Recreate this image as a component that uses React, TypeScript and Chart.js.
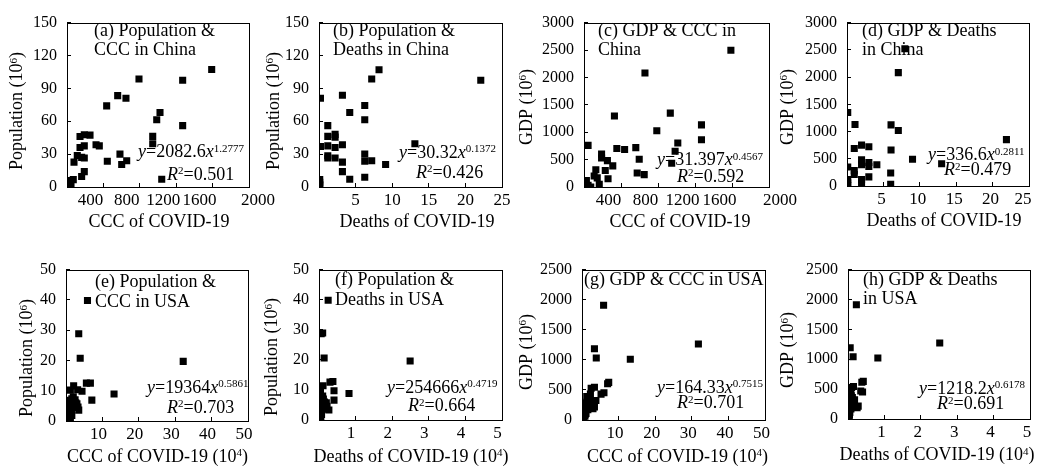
import React, { useEffect, useRef } from "react";
import { Chart, registerables } from "chart.js";

Chart.register(...registerables);

const FONT = '"Liberation Serif", "Times New Roman", Times, serif';

// ---------------- data ----------------
// (a) Population & CCC in China
const chinaCccA = [1590, 1271, 1271, 1022, 986, 942, 942, 1041, 791, 557, 648, 436, 582, 601, 656, 443, 253, 190, 143, 319, 355, 190, 143, 113, 161, 190, 77, 190, 161, 0, 33, 69, 44, 15];
const chinaPopA = [107.2, 97.4, 56, 68, 61.3, 46.2, 39.5, 7, 98.5, 83.4, 81, 74, 30, 20.6, 24, 23.5, 47.3, 47.7, 46, 38.6, 37.5, 37.5, 36, 28.8, 27, 26.4, 22.7, 14, 9.6, 5.2, 6, 6.7, 2.3, 4];
// (b) Population & Deaths in China
const chinaDeathsB = [0.2, 0.2, 0.1, 0.1, 0.1, 0.1, 1.2, 1.2, 1.2, 1.2, 1.2, 2.2, 2.2, 2.2, 2.2, 3.2, 3.2, 3.2, 3.2, 4.2, 4.2, 6.25, 6.25, 6.25, 6.25, 6.25, 7.2, 7.2, 8.2, 9.1, 13.1, 22.1];
const chinaPopB = [81, 37, 6.7, 4.4, 2.3, 1, 56, 46.2, 37.5, 28.5, 26.4, 48, 45.5, 36, 26.4, 83.7, 38.6, 22.7, 14, 68, 7, 74.3, 61.3, 30, 23.5, 8.9, 98.5, 24, 107, 20.6, 39.5, 97.4];
// (c) GDP & CCC in China
const chinaCccC = [1588, 659, 329, 933, 1270, 1270, 787, 1014, 985, 948, 560, 597, 575, 651, 439, 355, 311, 253, 44, 190, 190, 128, 143, 165, 26, 44, 73, 110, 230, 260];
const chinaGdpC = [2495, 2079, 1295, 1348, 1134, 861, 1028, 802, 653, 434, 719, 505, 255, 226, 683, 701, 386, 481, 760, 600, 530, 315, 166, 48, 119, 30, 0, 200, 300, 150];
// (d) GDP & Deaths in China
const chinaDeathsD = [7.95, 7.05, 0.1, 1.1, 6.05, 7.05, 1.0, 2.0, 3.0, 6.05, 2, 2, 3, 3, 4.1, 1, 1, 2, 2, 3, 6, 6, 0.1, 0.1, 0.1, 0.1, 9, 13, 21.9];
const chinaGdpD = [2520, 2082, 1350, 1128, 1122, 1020, 690, 750, 720, 660, 480, 390, 432, 360, 390, 282, 210, 120, 60, 168, 240, 30, 348, 120, 60, 10, 492, 408, 852];
// (e) Population & CCC in USA (CCC in 10^4)
const usCccE = [5.9, 3.5, 3.9, 32.2, 5.6, 6.7, 2.1, 1.2, 3.2, 4.4, 13.2, 7.1, 2.0, 1.6, 2.5, 1.0, 1.8, 2.7, 3.0, 0.6, 1.4, 2.2, 3.3, 3.5, 0.8, 1.1, 0.5, 0.9, 1.3, 0.4, 0.3, 0.6, 0.2, 0.15, 0.5, 0.3, 0.1, 0.4, 1.0, 0.2, 0.6, 1.2, 0.25, 0.7, 1.6, 0.8, 1.9, 1.5, 2.5, 0.3, 1.2];
const usPopE = [39.8, 28.8, 20.7, 19.7, 12.5, 12.5, 11.6, 10.2, 10.3, 9.8, 8.9, 6.9, 8.0, 7.3, 7.0, 6.8, 6.3, 6.0, 5.7, 5.8, 5.0, 4.9, 4.6, 3.6, 4.6, 4.2, 3.1, 3.0, 3.2, 2.9, 1.8, 2.1, 1.3, 1.0, 1.4, 0.9, 0.7, 0.6, 1.1, 0.6, 0.7, 0.9, 1.8, 1.9, 1.8, 3.9, 4.5, 3.6, 5.3, 4.1, 6.2];
// (f) Population & Deaths in USA (Deaths in 10^4)
const usDeathsF = [0.25, 0.06, 0.1, 0.14, 2.49, 0.3, 0.38, 0.11, 0.04, 0.41, 0.82, 0.41, 0.1, 0.05, 0.12, 0.03, 0.08, 0.15, 0.2, 0.02, 0.06, 0.1, 0.22, 0.27, 0.03, 0.05, 0.02, 0.04, 0.06, 0.01, 0.01, 0.02, 0.01, 0.005, 0.02, 0.01, 0.005, 0.01, 0.04, 0.01, 0.02, 0.05, 0.01, 0.03, 0.07, 0.04, 0.09, 0.12, 0.16, 0.01, 0.05];
const usPopF = [39.8, 28.7, 28.9, 20.6, 19.6, 12.6, 12.8, 11.4, 9.8, 9.7, 8.8, 6.6, 8.0, 7.3, 7.0, 6.8, 6.3, 6.0, 5.7, 5.8, 5.0, 4.9, 4.6, 3.3, 4.6, 4.2, 3.1, 3.0, 3.2, 2.9, 1.8, 2.1, 1.3, 1.0, 1.4, 0.9, 0.7, 0.6, 1.1, 0.6, 0.7, 0.9, 1.8, 1.9, 1.8, 3.9, 4.5, 3.6, 5.3, 4.1, 6.2];
// (g) GDP & CCC in USA
const usCccG = [5.9, 3.4, 3.9, 31.8, 13.2, 7.0, 7.3, 5.2, 6.0, 2.5, 3.4, 2.3, 1.8, 2.7, 3.8, 3.0, 3.4, 1.0, 1.2, 0.8, 0.5, 0.3, 0.2, 1.5, 0.6, 0.4, 0.9, 0.3, 0.2, 0.1, 0.7, 1.3, 2.0, 0.5, 0.25, 0.15, 0.1, 0.6, 1.1, 1.6, 2.2, 0.4, 0.3, 0.8, 0.2, 0.35, 0.12, 0.5, 0.9, 1.4, 0.06];
const usGdpG = [1908, 1183, 1032, 1263, 1011, 602, 625, 430, 452, 527, 545, 430, 323, 323, 323, 188, 215, 210, 200, 160, 100, 60, 30, 250, 130, 80, 280, 45, 20, 10, 140, 390, 360, 70, 50, 25, 15, 190, 110, 170, 240, 35, 90, 65, 120, 40, 55, 150, 95, 300, 5];
// (h) GDP & Deaths in USA
const usDeathsH = [0.23, 0.06, 0.14, 2.52, 0.82, 0.38, 0.42, 0.35, 0.4, 0.1, 0.15, 0.08, 0.1, 0.12, 0.18, 0.25, 0.28, 0.05, 0.06, 0.04, 0.02, 0.01, 0.01, 0.07, 0.03, 0.02, 0.05, 0.01, 0.01, 0.005, 0.03, 0.09, 0.12, 0.02, 0.01, 0.01, 0.005, 0.03, 0.05, 0.08, 0.11, 0.02, 0.01, 0.04, 0.01, 0.02, 0.01, 0.03, 0.04, 0.07, 0.002];
const usGdpH = [1912, 1191, 1041, 1271, 1020, 614, 630, 470, 452, 527, 545, 430, 323, 323, 323, 188, 215, 210, 200, 160, 100, 60, 30, 250, 130, 80, 280, 45, 20, 10, 140, 390, 360, 70, 50, 25, 15, 190, 110, 170, 240, 35, 90, 65, 120, 40, 55, 150, 95, 300, 5];

// tick values
const chinaCccTicks = [0, 400, 800, 1200, 1600, 2000];
const chinaDeathTicks = [0, 5, 10, 15, 20, 25];
const chinaPopTicks = [0, 30, 60, 90, 120, 150];
const chinaGdpTicks = [0, 500, 1000, 1500, 2000, 2500, 3000];
const usCccTicks = [0, 10, 20, 30, 40, 50];
const usDeathTicks = [0, 1, 2, 3, 4, 5];
const usPopTicks = [0, 10, 20, 30, 40, 50];
const usGdpTicks = [0, 500, 1000, 1500, 2000, 2500];

// fit results shown in each panel
const coefs = ["2082.6", "30.32", "31.397", "336.6", "19364", "254666", "164.33", "1218.2"];
const exps = ["1.2777", "0.1372", "0.4567", "0.2811", "0.5861", "0.4719", "0.7515", "0.6178"];
const r2s = ["0.501", "0.426", "0.592", "0.479", "0.703", "0.664", "0.701", "0.691"];

// ---------------- layout ----------------
type Seg = { t: string; i?: boolean; s?: boolean };

interface PanelDef {
  xs: number[];
  ys: number[];
  xTicks: number[];
  yTicks: number[];
  box: [number, number, number, number];
  xTitle: Seg[];
  xTitlePos: [number, number];
  yTitle: Seg[];
  yTitlePos: [number, number];
  label: string[];
  labelPos: [number, number, number];
  eqPos: [number, number];
  r2Pos: [number, number];
  k: number;
  xLabelOffset: number;
  lastShift: number | null;
}

const popTitle: Seg[] = [{ t: "Population (10" }, { t: "6", s: true }, { t: ")" }];
const gdpTitle: Seg[] = [{ t: "GDP (10" }, { t: "6", s: true }, { t: ")" }];
const cccTitle: Seg[] = [{ t: "CCC of COVID-19" }];
const deathTitle: Seg[] = [{ t: "Deaths of COVID-19" }];
const cccTitle4: Seg[] = [{ t: "CCC of COVID-19 (10" }, { t: "4", s: true }, { t: ")" }];
const deathTitle4: Seg[] = [{ t: "Deaths of COVID-19 (10" }, { t: "4", s: true }, { t: ")" }];

const panels: PanelDef[] = [
  {
    xs: chinaCccA, ys: chinaPopA, xTicks: chinaCccTicks, yTicks: chinaPopTicks,
    box: [67, 15, 249, 187], xTitle: cccTitle, xTitlePos: [159, 222], yTitle: popTitle, yTitlePos: [17.5, 111],
    label: ["(a) Population &", "CCC in China"], labelPos: [94, 31, 50], eqPos: [138, 152.5], r2Pos: [167, 175],
    k: 0, xLabelOffset: -13, lastShift: 9,
  },
  {
    xs: chinaDeathsB, ys: chinaPopB, xTicks: chinaDeathTicks, yTicks: chinaPopTicks,
    box: [319, 15, 502, 187], xTitle: deathTitle, xTitlePos: [417, 222], yTitle: popTitle, yTitlePos: [274, 111],
    label: ["(b) Population &", "Deaths in China"], labelPos: [333, 31, 50], eqPos: [399, 153], r2Pos: [416, 173],
    k: 1, xLabelOffset: 0, lastShift: null,
  },
  {
    xs: chinaCccC, ys: chinaGdpC, xTicks: chinaCccTicks, yTicks: chinaGdpTicks,
    box: [584, 15, 769, 187], xTitle: cccTitle, xTitlePos: [680, 222], yTitle: gdpTitle, yTitlePos: [527, 107],
    label: ["(c) GDP & CCC in", "China"], labelPos: [598, 31, 50], eqPos: [657, 160.5], r2Pos: [677, 177],
    k: 2, xLabelOffset: -12.5, lastShift: 11,
  },
  {
    xs: chinaDeathsD, ys: chinaGdpD, xTicks: chinaDeathTicks, yTicks: chinaGdpTicks,
    box: [847, 15, 1029, 186], xTitle: deathTitle, xTitlePos: [944, 221], yTitle: gdpTitle, yTitlePos: [788, 107],
    label: ["(d) GDP & Deaths", "in China"], labelPos: [862, 31, 50], eqPos: [928, 155.5], r2Pos: [944, 170.5],
    k: 3, xLabelOffset: -2, lastShift: -6,
  },
  {
    xs: usCccE, ys: usPopE, xTicks: usCccTicks, yTicks: usPopTicks,
    box: [66, 262, 248, 421], xTitle: cccTitle4, xTitlePos: [157.5, 457], yTitle: popTitle, yTitlePos: [27.5, 358],
    label: ["(e) Population &", "CCC in USA"], labelPos: [95, 282, 302], eqPos: [147, 388], r2Pos: [167, 408],
    k: 4, xLabelOffset: -4, lastShift: null,
  },
  {
    xs: usDeathsF, ys: usPopF, xTicks: usDeathTicks, yTicks: usPopTicks,
    box: [319, 262, 502, 420], xTitle: deathTitle4, xTitlePos: [411, 457], yTitle: popTitle, yTitlePos: [272.5, 357],
    label: ["(f) Population &", "Deaths in USA"], labelPos: [335, 280, 300], eqPos: [387, 388], r2Pos: [408, 406.5],
    k: 5, xLabelOffset: -4.5, lastShift: null,
  },
  {
    xs: usCccG, ys: usGdpG, xTicks: usCccTicks, yTicks: usGdpTicks,
    box: [582, 262, 765, 420], xTitle: cccTitle4, xTitlePos: [677.5, 457], yTitle: gdpTitle, yTitlePos: [527, 352],
    label: ["(g) GDP & CCC in USA"], labelPos: [584, 280, 300], eqPos: [657, 388], r2Pos: [677, 403.5],
    k: 6, xLabelOffset: -3.5, lastShift: null,
  },
  {
    xs: usDeathsH, ys: usGdpH, xTicks: usDeathTicks, yTicks: usGdpTicks,
    box: [848, 262, 1030, 419], xTitle: deathTitle4, xTitlePos: [937, 455.5], yTitle: gdpTitle, yTitlePos: [788.5, 350],
    label: ["(h) GDP & Deaths", "in USA"], labelPos: [863, 280, 299], eqPos: [919, 389], r2Pos: [937, 404.5],
    k: 7, xLabelOffset: -3, lastShift: null,
  },
];

const LEFT = 80;
const TOP = 16;
const RIGHT = 40;
const BOTTOM = 50;
const TEXT = 18;
const TICK_X = 17;
const TICK_Y = 16;

function fontStr(size: number, italic?: boolean) {
  return `${italic ? "italic " : ""}${size}px ${FONT}`;
}

function drawRich(ctx: CanvasRenderingContext2D, segs: Seg[], x: number, cy: number, size: number, align: "left" | "center") {
  const sup = Math.round(size * 0.62);
  const widths = segs.map((s) => {
    ctx.font = fontStr(s.s ? sup : size, s.i);
    return ctx.measureText(s.t).width;
  });
  const total = widths.reduce((a, b) => a + b, 0);
  let cx = align === "center" ? x - total / 2 : x;
  ctx.textBaseline = "middle";
  ctx.textAlign = "left";
  ctx.fillStyle = "#000";
  segs.forEach((s, i) => {
    ctx.font = fontStr(s.s ? sup : size, s.i);
    ctx.fillText(s.t, cx, s.s ? cy - size * 0.2 : cy);
    cx += widths[i];
  });
}

function PanelChart({ p }: { p: PanelDef }) {
  const ref = useRef<HTMLCanvasElement | null>(null);
  const [L, T, R, B] = p.box;
  const cl = L - LEFT;
  const ct = T - TOP;
  const w = R - L + LEFT + RIGHT;
  const h = B - T + TOP + BOTTOM;

  useEffect(() => {
    if (!ref.current) return;
    const annot = {
      id: "annot" + p.k,
      beforeDatasetsDraw(chart: any) {
        const ctx: CanvasRenderingContext2D = chart.ctx;
        const a = chart.chartArea;
        ctx.save();
        ctx.strokeStyle = "#000";
        ctx.lineWidth = 1;
        ctx.strokeRect(Math.round(a.left) + 0.5, Math.round(a.top) + 0.5, Math.round(a.right - a.left), Math.round(a.bottom - a.top));
        ctx.restore();
      },
      afterDraw(chart: any) {
        const ctx: CanvasRenderingContext2D = chart.ctx;
        const xs = chart.scales.x;
        ctx.save();
        if (p.lastShift !== null) {
          const v = p.xTicks[p.xTicks.length - 1];
          ctx.font = fontStr(TICK_X);
          ctx.textAlign = "center";
          ctx.textBaseline = "middle";
          ctx.fillStyle = "#000";
          ctx.fillText(String(v), xs.getPixelForValue(v) + p.lastShift, chart.chartArea.bottom - 4 + 7 + (TICK_X * 1.2) / 2);
        }
        p.label.forEach((line, i) => {
          drawRich(ctx, [{ t: line }], p.labelPos[0] - cl, p.labelPos[1 + i] - ct, TEXT, "left");
        });
        drawRich(ctx, [{ t: "y", i: true }, { t: "=" + coefs[p.k] }, { t: "x", i: true }, { t: exps[p.k], s: true }], p.eqPos[0] - cl, p.eqPos[1] - ct, TEXT, "left");
        drawRich(ctx, [{ t: "R", i: true }, { t: "2", s: true }, { t: "=" + r2s[p.k] }], p.r2Pos[0] - cl, p.r2Pos[1] - ct, TEXT, "left");
        drawRich(ctx, p.xTitle, p.xTitlePos[0] - cl, p.xTitlePos[1] - ct, TEXT, "center");
        ctx.translate(p.yTitlePos[0] - cl, p.yTitlePos[1] - ct);
        ctx.rotate(-Math.PI / 2);
        drawRich(ctx, p.yTitle, 0, 0, TEXT, "center");
        ctx.restore();
      },
    };

    const gridOpts = { drawOnChartArea: false, drawTicks: true, tickLength: -4, color: "#000", lineWidth: 1 };
    const chart = new Chart(ref.current, {
      type: "scatter",
      data: {
        datasets: [
          {
            data: p.xs.map((x, i) => ({ x, y: p.ys[i] })),
            pointStyle: "rect",
            pointRadius: 5,
            pointHoverRadius: 5,
            backgroundColor: "#000",
            borderColor: "#000",
            borderWidth: 0,
          },
        ],
      },
      options: {
        responsive: false,
        maintainAspectRatio: false,
        animation: false,
        events: [],
        layout: { padding: { left: 0, top: TOP, right: RIGHT, bottom: 0 } },
        plugins: { legend: { display: false }, tooltip: { enabled: false } },
        scales: {
          x: {
            type: "linear",
            position: "bottom",
            min: p.xTicks[0],
            max: p.xTicks[p.xTicks.length - 1],
            afterBuildTicks: (s: any) => {
              s.ticks = p.xTicks.map((v) => ({ value: v }));
            },
            afterFit: (s: any) => {
              s.height = BOTTOM;
            },
            grid: gridOpts,
            border: { display: false },
            ticks: {
              autoSkip: false,
              maxRotation: 0,
              minRotation: 0,
              padding: 7,
              labelOffset: p.xLabelOffset,
              color: "#000",
              font: { family: FONT, size: TICK_X },
              callback: (v: any, i: number, arr: any[]) =>
                i === 0 || (p.lastShift !== null && i === arr.length - 1) ? "" : String(v),
            },
          },
          y: {
            type: "linear",
            position: "left",
            min: p.yTicks[0],
            max: p.yTicks[p.yTicks.length - 1],
            afterBuildTicks: (s: any) => {
              s.ticks = p.yTicks.map((v) => ({ value: v }));
            },
            afterFit: (s: any) => {
              s.width = LEFT;
            },
            grid: gridOpts,
            border: { display: false },
            ticks: {
              autoSkip: false,
              padding: 14,
              color: "#000",
              font: { family: FONT, size: TICK_Y },
              callback: (v: any) => String(v),
            },
          },
        },
      },
      plugins: [annot],
    } as any);
    return () => chart.destroy();
  }, []);

  return (
    <canvas
      ref={ref}
      width={w}
      height={h}
      style={{ position: "absolute", left: cl, top: ct, width: w, height: h }}
    />
  );
}

export default function App() {
  return (
    <div style={{ position: "absolute", left: 0, top: 0, width: 1039, height: 469, overflow: "hidden", background: "#fff" }}>
      {panels.map((p) => (
        <PanelChart key={p.k} p={p} />
      ))}
    </div>
  );
}
